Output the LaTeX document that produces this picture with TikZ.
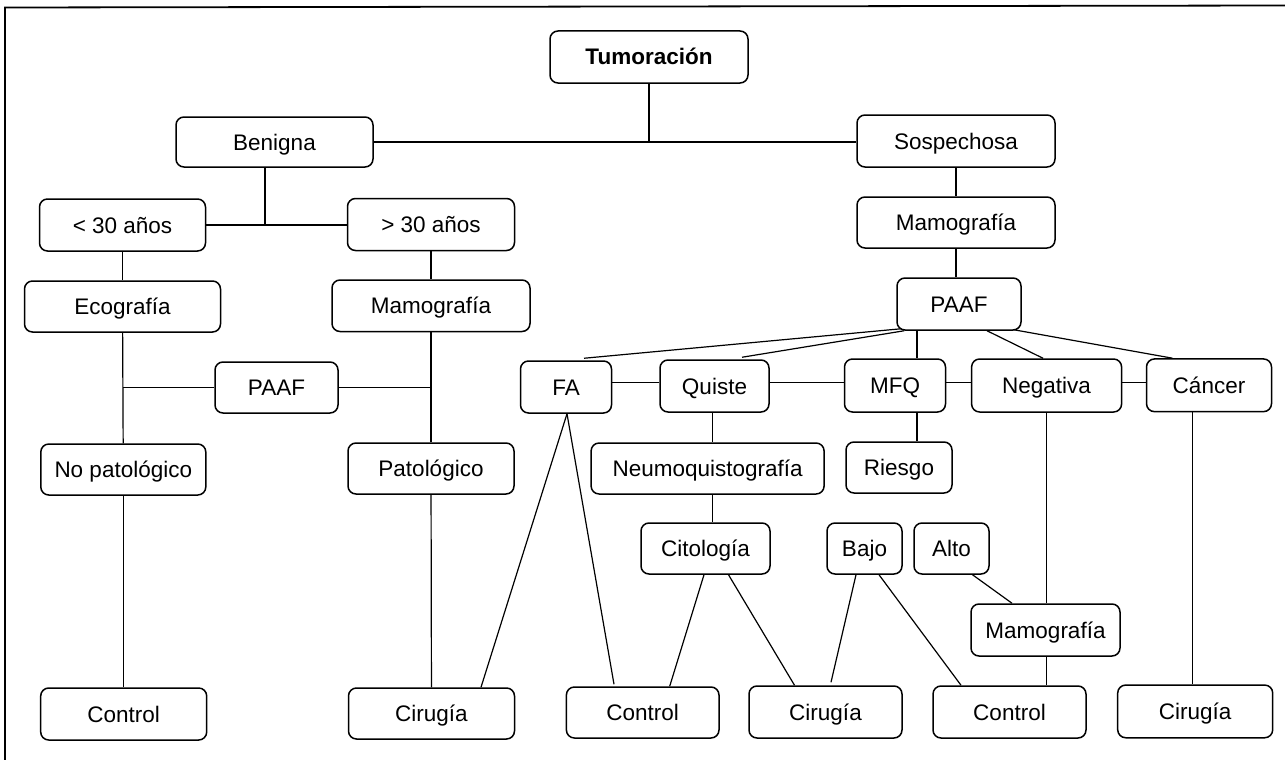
\documentclass[tikz,border=0pt]{standalone}
\usepackage{fontspec}
\setmainfont{Liberation Sans}
\begin{document}
\begin{tikzpicture}[x=1pt,y=-1pt,
  box/.style={draw, rounded corners=8pt, line width=1.5pt, inner sep=0pt,
    text height=16pt, text depth=0pt, font=\fontsize{22.5}{27}\selectfont},
  conn/.style={line width=1.2pt},
  frame/.style={line width=1.8pt}]
\useasboundingbox (0,0) rectangle (1285,760);
\draw[frame] (5,760) -- (5,7.5) -- (1285,5.5);

% nodes
\node[box, minimum width=198pt, minimum height=52pt] (tum) at (649,57) {\bfseries Tumoración};
\node[box, minimum width=197pt, minimum height=50pt] (ben) at (274.5,142) {Benigna};
\node[box, minimum width=198pt, minimum height=52pt] (sos) at (956,141) {Sospechosa};
\node[box, minimum width=166pt, minimum height=52pt] (lt30) at (122.5,225) {< 30 años};
\node[box, minimum width=167pt, minimum height=52pt] (gt30) at (431,224.5) {> 30 años};
\node[box, minimum width=198pt, minimum height=51pt] (mamR) at (956,222.5) {Mamografía};
\node[box, minimum width=196pt, minimum height=51pt] (eco) at (122.5,306.5) {Ecografía};
\node[box, minimum width=198pt, minimum height=51.5pt] (mamL) at (431,305.75) {Mamografía};
\node[box, minimum width=124pt, minimum height=52pt] (paafR) at (959,304) {PAAF};
\node[box, minimum width=123pt, minimum height=51pt] (paafL) at (276.5,387.5) {PAAF};
\node[box, minimum width=91pt, minimum height=52pt] (fa) at (566,387) {FA};
\node[box, minimum width=109pt, minimum height=52pt] (quiste) at (714.5,386) {Quiste};
\node[box, minimum width=101pt, minimum height=53pt] (mfq) at (895,385.5) {MFQ};
\node[box, minimum width=150pt, minimum height=53pt] (neg) at (1046.6,385.5) {Negativa};
\node[box, minimum width=125pt, minimum height=52.7pt] (can) at (1209,385.3) {Cáncer};
\node[box, minimum width=165pt, minimum height=51pt] (nopat) at (123.3,469.5) {No patológico};
\node[box, minimum width=166pt, minimum height=51pt] (pat) at (431,468.5) {Patológico};
\node[box, minimum width=233pt, minimum height=51pt] (neumo) at (707.6,468.5) {Neumoquistografía};
\node[box, minimum width=106pt, minimum height=51pt] (riesgo) at (899,467.5) {Riesgo};
\node[box, minimum width=129pt, minimum height=51pt] (cito) at (705.5,548.5) {Citología};
\node[box, minimum width=75pt, minimum height=51pt] (bajo) at (864.5,548.5) {Bajo};
\node[box, minimum width=75pt, minimum height=51pt] (alto) at (951.5,548.5) {Alto};
\node[box, minimum width=149pt, minimum height=52pt] (mamB) at (1045.5,630) {Mamografía};
\node[box, minimum width=166pt, minimum height=52pt] (con1) at (123.7,714) {Control};
\node[box, minimum width=166pt, minimum height=51pt] (cir1) at (431.5,713.5) {Cirugía};
\node[box, minimum width=152.6pt, minimum height=51pt] (con2) at (642.7,712.5) {Control};
\node[box, minimum width=153pt, minimum height=52pt] (cir2) at (825.5,712) {Cirugía};
\node[box, minimum width=153pt, minimum height=52pt] (con3) at (1009.5,712) {Control};
\node[box, minimum width=155pt, minimum height=52.7pt] (cir3) at (1195.2,711.4) {Cirugía};

% junction helpers
\coordinate (jB) at (265,225);
\coordinate (hq) at (0,382.5);
\coordinate (vq) at (712.5,0);
\coordinate (vm) at (917,0);
\coordinate (vn) at (1046.5,0);
\coordinate (vc) at (1192.7,0);

% connectors
\draw[conn] (tum.south) -- (tum.south |- ben.east);
\draw[conn] (ben.east) -- (sos.west |- ben.east);
\draw[conn] (ben.south -| jB) -- (jB);
\draw[conn] (lt30.east) -- (gt30.west |- lt30.east);
\draw[conn] (lt30) -- (eco);
\draw[conn] (gt30) -- (mamL);
\draw[conn] (eco) -- (nopat);
\draw[conn] (mamL.south) -- (mamL.south |- pat.north);
\draw[conn] (paafL.west) -- (paafL.west -| eco.south);
\draw[conn] (paafL.east) -- (paafL.east -| mamL.south);
\draw[conn] (nopat.south) -- (nopat.south |- con1.north);
\draw[conn] (pat) -- (cir1);
\draw[conn] (sos.south) -- (sos.south |- mamR.north);
\draw[conn] (mamR.south) -- (mamR.south |- paafR.north);

\draw[conn] ([xshift=5pt,yshift=2pt]paafR.south west) -- ([xshift=18pt,yshift=2pt]fa.north);
\draw[conn] ([xshift=8pt]paafR.south west) -- ([xshift=27.5pt,yshift=2pt]quiste.north);
\draw[conn] (paafR.south -| vm) -- (mfq.north -| vm);
\draw[conn] ([xshift=28pt]paafR.south) -- ([xshift=-3.6pt]neg.north);
\draw[conn] ([xshift=-8pt,yshift=1pt]paafR.south east) -- ([xshift=-36.5pt]can.north);

\draw[conn] (fa.east |- hq) -- (quiste.west |- hq);
\draw[conn] (quiste.east |- hq) -- (mfq.west |- hq);
\draw[conn] (mfq.east |- hq) -- (neg.west |- hq);
\draw[conn] (neg.east |- hq) -- (can.west |- hq);

\draw[conn] (quiste.south -| vq) -- (neumo.north -| vq);
\draw[conn] (neumo.south -| vq) -- (cito.north -| vq);
\draw[conn] (mfq.south -| vm) -- (riesgo.north -| vm);
\draw[conn] (neg.south -| vn) -- (mamB.north -| vn);
\draw[conn] (mamB.south -| vn) -- (con3.north -| vn);
\draw[conn] (can.south -| vc) -- (cir3.north -| vc);

\draw[conn] ([xshift=1pt]fa.south) -- ([xshift=49.5pt]cir1.north);
\draw[conn] ([xshift=1pt]fa.south) -- ([xshift=-28.7pt,yshift=2pt]con2.north);
\draw[conn] ([xshift=-1.5pt]cito.south) -- ([xshift=27pt]con2.north);
\draw[conn] ([xshift=23pt]cito.south) -- ([xshift=-31pt]cir2.north);
\draw[conn] ([xshift=-8.5pt]bajo.south) -- ([xshift=5.5pt,yshift=3pt]cir2.north);
\draw[conn] ([xshift=14.5pt]bajo.south) -- ([xshift=-48.5pt]con3.north);
\draw[conn] ([xshift=21pt]alto.south) -- ([xshift=-33.5pt]mamB.north);
\end{tikzpicture}
\end{document}
